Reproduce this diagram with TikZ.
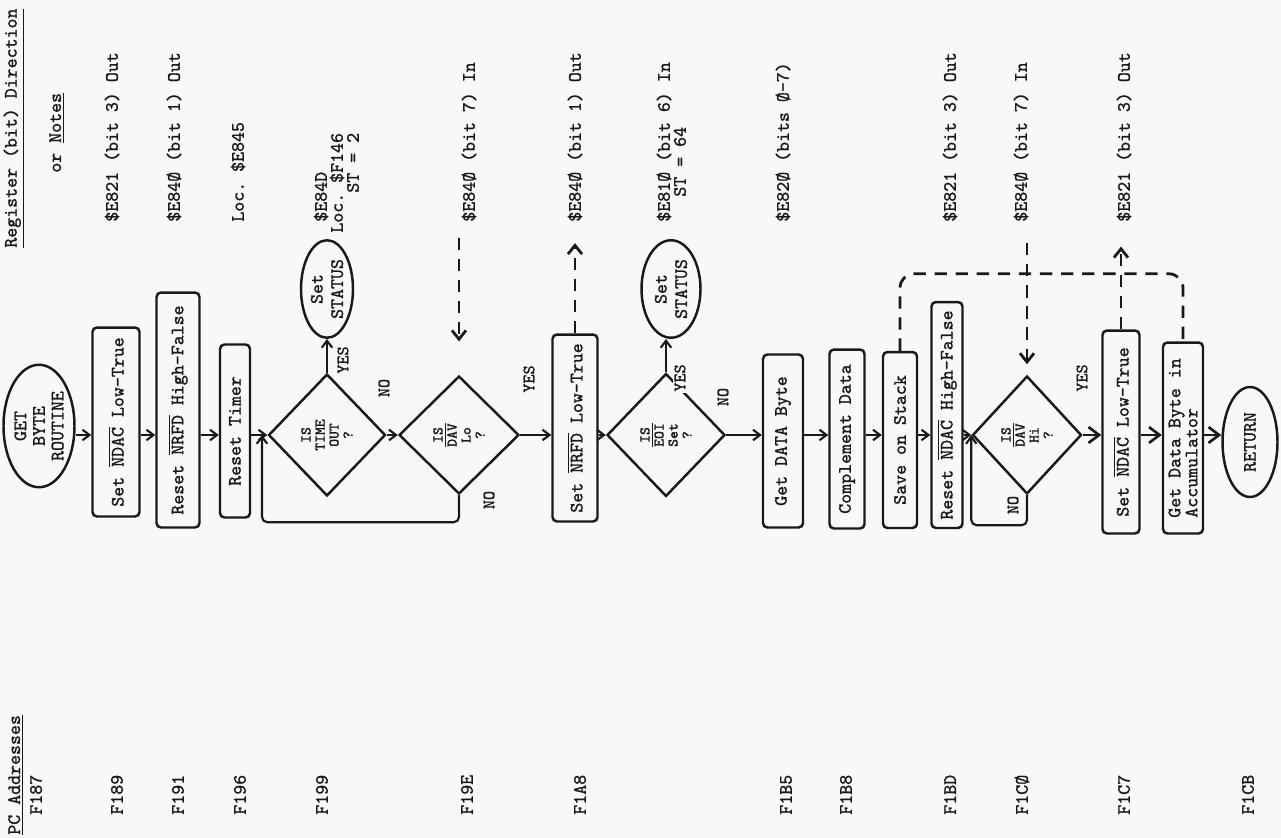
\documentclass[tikz,border=0pt]{standalone}
\usepackage{fontspec}
\setmonofont{Latin Modern Mono}[FakeBold=1.2]
\usepackage{xcolor}
\definecolor{pagegray}{RGB}{248,248,247}
\definecolor{inkblack}{RGB}{25,25,25}
\usetikzlibrary{arrows.meta, shapes.geometric, calc}

\newcommand{\lowsig}[1]{\ensuremath{\overline{\mbox{#1}}}}

\begin{document}
\begin{tikzpicture}[x=0.02cm, y=-0.02cm, inkblack,
  every node/.style={rotate=90, font=\fontsize{10.8}{11.6}\selectfont\ttfamily},
  procbox/.style={draw, line width=1.4pt, rounded corners=2.5pt, inner sep=1pt, align=center},
  decide/.style={diamond, draw, line width=1.4pt, inner sep=0pt, align=center,
                 font=\fontsize{8.4}{8}\selectfont\ttfamily},
  term/.style={ellipse, draw, line width=1.4pt, inner xsep=0pt, inner ysep=-1.5pt, align=center},
  note/.style={anchor=west, inner sep=0pt},
  answer/.style={inner sep=0pt, font=\fontsize{9.8}{10}\selectfont\ttfamily},
  flowarr/.style={line width=1.2pt, -{Straight Barb[length=4pt,width=6pt]}},
  bigarr/.style={line width=1.5pt, -{Straight Barb[length=6pt,width=9pt]}},
  sigarr/.style={line width=1.6pt, dash pattern=on 7pt off 5pt, -{Straight Barb[length=5pt,width=8pt]}},
  siglink/.style={line width=1.6pt, dash pattern=on 7pt off 5pt, rounded corners=8pt}]

\useasboundingbox (0,0) rectangle (1281,838);
\fill[pagegray] (0,0) rectangle (1281,838);

% Column headers
\node[note] (pchdr) at (16,835) {\underline{PC Addresses}};
\node[note] (reghdr) at (14,248) {\underline{Register (bit) Direction}};
\node[note] (orhdr) at (57,173) {or \underline{Notes}};

% PC addresses
\node[note] (a187) at (36,815) {F187};
\node[note] (a189) at (117,815) {F189};
\node[note] (a191) at (178,815) {F191};
\node[note] (a196) at (240,815) {F196};
\node[note] (a199) at (322,815) {F199};
\node[note] (a19e) at (467,815) {F19E};
\node[note] (a1a8) at (580,815) {F1A8};
\node[note] (a1b5) at (786,815) {F1B5};
\node[note] (a1b8) at (846,815) {F1B8};
\node[note] (a1bd) at (950,815) {F1BD};
\node[note] (a1c0) at (1022,815) {F1CØ};
\node[note] (a1c7) at (1124,815) {F1C7};
\node[note] (a1cb) at (1248,815) {F1CB};

% Register notes
\node[note] (n1) at (112,222) {\$E821 (bit 3) Out};
\node[note] (n2) at (174,222) {\$E84Ø (bit 1) Out};
\node[note] (n3) at (238,222) {Loc. \$E845};
\node[note] (n4a) at (321,222) {\$E84D};
\node[note] (n4b) at (337,233) {Loc. \$F146};
\node[note] (n4c) at (353,193) {ST = 2};
\node[note] (n5) at (469,222) {\$E84Ø (bit 7) In};
\node[note] (n6) at (575,222) {\$E84Ø (bit 1) Out};
\node[note] (n7a) at (664,222) {\$E81Ø (bit 6) In};
\node[note] (n7b) at (680,197) {ST = 64};
\node[note] (n8) at (783,222) {\$E82Ø (bits Ø-7)};
\node[note] (n9) at (950,222) {\$E821 (bit 3) Out};
\node[note] (n10) at (1021,222) {\$E84Ø (bit 7) In};
\node[note] (n11) at (1124,222) {\$E821 (bit 3) Out};

% Flow line
\coordinate (flow) at (0,435);

% Handshake start
\node[term, minimum width=2.45cm, minimum height=1.42cm, font=\fontsize{10.8}{10.6}\selectfont\ttfamily]
  (getbyte) at (39,426) {GET\\BYTE\\ROUTINE};
\node[procbox, minimum width=3.78cm, minimum height=0.94cm] (setndacA) at (116,422) {Set \lowsig{NDAC} Low-True};
\node[procbox, minimum width=4.7cm, minimum height=0.86cm] (resetnrfd) at (178,410) {Reset \lowsig{NRFD} High-False};
\node[procbox, minimum width=3.46cm, minimum height=0.6cm] (resettimer) at (235,431) {Reset Timer};

% Wait for DAV low
\node[decide, minimum width=2.44cm, minimum height=2.34cm] (timeout) at (327,435) {IS\\TIME\\OUT\\?};
\node[term, minimum width=1.95cm, minimum height=1.04cm] (statusA) at (327,289) {Set\\STATUS};
\node[decide, minimum width=2.36cm, minimum height=2.4cm] (davlo) at (459,435) {IS\\\lowsig{DAV}\\Lo\\?};
\node[procbox, minimum width=3.74cm, minimum height=0.9cm] (setnrfd) at (575,428) {Set \lowsig{NRFD} Low-True};

% EOI test and data
\node[decide, minimum width=2.46cm, minimum height=2.36cm] (eoi) at (666,435) {IS\\\lowsig{EOI}\\Set\\?};
\node[term, minimum width=1.95cm, minimum height=1.18cm] (statusB) at (671,289) {Set\\STATUS};
\node[procbox, minimum width=3.46cm, minimum height=0.8cm] (getdata) at (783,441) {Get DATA Byte};
\node[procbox, minimum width=3.58cm, minimum height=0.7cm] (complement) at (847,439) {Complement Data};
\node[procbox, minimum width=3.52cm, minimum height=0.68cm] (savestack) at (900,440) {Save on Stack};
\node[procbox, minimum width=4.52cm, minimum height=0.62cm] (resetndac) at (947,415) {Reset \lowsig{NDAC} High-False};

% Wait for DAV high
\node[decide, minimum width=2.36cm, minimum height=2.18cm] (davhi) at (1027,435) {IS\\\lowsig{DAV}\\Hi\\?};
\node[procbox, minimum width=4.06cm, minimum height=0.74cm] (setndacB) at (1121,432) {Set \lowsig{NDAC} Low-True};
\node[procbox, minimum width=3.82cm, minimum height=0.8cm, align=left,
      font=\fontsize{10.8}{9.7}\selectfont\ttfamily] (getacc) at (1183,438) {Get Data Byte in\\Accumulator};
\node[term, minimum width=2.2cm, minimum height=1.1cm] (return) at (1250,442) {RETURN};

% Branch labels
\node[answer] (yesA) at (343,360) {YES};
\node[answer] (noA) at (384,388) {NO};
\node[answer] (yesB) at (529,379) {YES};
\node[answer] (noB) at (489,500) {NO};
\node[answer, fill=pagegray, inner sep=1pt] (yesC) at (680,378) {YES};
\node[answer] (noC) at (723,397) {NO};
\node[answer] (noD) at (1013,505) {NO};
\node[answer] (yesD) at (1082,378) {YES};

% Main flow
\draw[flowarr] (getbyte.south |- flow) -- (setndacA.north |- flow);
\draw[flowarr] (setndacA.south |- flow) -- (resetnrfd.north |- flow);
\draw[flowarr] (resetnrfd.south |- flow) -- (resettimer.north |- flow);
\draw[flowarr] (resettimer.south |- flow) -- (timeout.north);
\draw[flowarr] (timeout.east) -- (statusA.west);
\draw[flowarr] (timeout.south) -- (davlo.north);
\draw[flowarr] (davlo.south) -- (setnrfd.north |- flow);
\coordinate (loopA) at (262,435);
\draw[flowarr, rounded corners=3pt] (davlo.west) -- ++(0,27) -| (loopA);
\draw[flowarr] (setnrfd.south |- flow) -- (eoi.north);
\draw[flowarr] (eoi.east) -- (eoi.east |- statusB.west);
\draw[flowarr] (eoi.south) -- (getdata.north |- flow);
\draw[flowarr] (getdata.south |- flow) -- (complement.north |- flow);
\draw[flowarr] (complement.south |- flow) -- (savestack.north |- flow);
\draw[flowarr] (savestack.south |- flow) -- (resetndac.north |- flow);
\draw[flowarr] (resetndac.south |- flow) -- (davhi.north);
\draw[flowarr, rounded corners=3pt] (davhi.west) -- ++(0,30) -| (davhi.north);
\draw[bigarr] (davhi.south) -- (setndacB.north |- flow);
\draw[bigarr] (setndacB.south |- flow) -- (getacc.north |- flow);
\draw[bigarr] (getacc.south |- flow) -- (return.north |- flow);

% Bus signals
\draw[sigarr, shorten <=9pt, shorten >=19pt] (davlo.east |- n5.west) -- (davlo.east);
\draw[sigarr, shorten >=12pt] (setnrfd.east) -- (setnrfd.east |- n6.west);
\draw[siglink] (savestack.east) -- ++(0,-77) -| (getacc.east);
\draw[sigarr, shorten <=12pt, shorten >=6pt] (davhi.east |- n10.west) -- (davhi.east);
\draw[sigarr, shorten >=14pt] (setndacB.east) -- (setndacB.east |- n11.west);

\end{tikzpicture}
\end{document}
